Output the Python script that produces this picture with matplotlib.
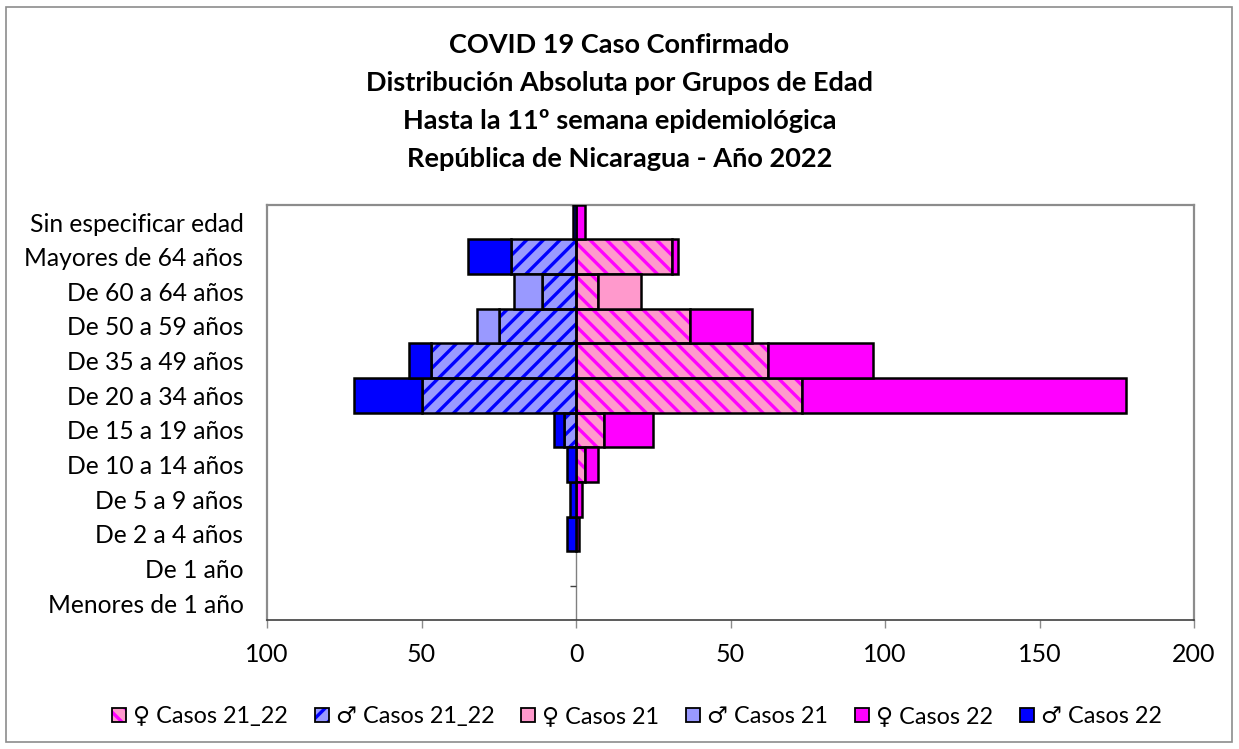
import numpy as np
import matplotlib.pyplot as plt
from matplotlib.patches import Patch, Rectangle
from matplotlib.legend_handler import HandlerTuple

# categories, bottom to top
grupos = ["Menores de 1 año", "De 1 año", "De 2 a 4 años", "De 5 a 9 años",
          "De 10 a 14 años", "De 15 a 19 años", "De 20 a 34 años", "De 35 a 49 años",
          "De 50 a 59 años", "De 60 a 64 años", "Mayores de 64 años", "Sin especificar edad"]

fem_21_22 = [0, 0, 0, 0, 3, 9, 73, 62, 37, 7, 31, 0]
fem_21 = [0, 0, 0, 0, 0, 0, 0, 0, 0, 14, 0, 0]
fem_22 = [0, 0, 1, 2, 4, 16, 105, 34, 20, 0, 2, 3]
masc_21_22 = [0, 0, 0, 0, 0, 4, 50, 47, 25, 11, 21, 0]
masc_21 = [0, 0, 0, 0, 0, 0, 0, 0, 7, 9, 0, 0]
masc_22 = [0, 0, 3, 2, 3, 3, 22, 7, 0, 0, 14, 1]

xticks = [-100, -50, 0, 50, 100, 150, 200]

titulo = ("COVID 19 Caso Confirmado\nDistribución Absoluta por Grupos de Edad\n"
          "Hasta la 11º semana epidemiológica\nRepública de Nicaragua - Año 2022")

FONT = ["Lato", "DejaVu Sans"]
plt.rcParams["font.family"] = FONT
plt.rcParams["hatch.linewidth"] = 2.4

fig = plt.figure(figsize=(12.39, 7.49), dpi=100)
fig.patches.append(Rectangle((0.005, 0.01), 0.989, 0.98, transform=fig.transFigure,
                             fill=False, edgecolor="#8c8c8c", linewidth=1.2))
ax = fig.add_axes([0.2155, 0.1716, 0.7482, 0.5551])

y = np.arange(len(grupos))

# (values, sign, base colour, stripe colour, hatch)
series = [
    (fem_21_22, 1, "#FF99CC", "#FF00FF", "\\\\"),
    (fem_21, 1, "#FF99CC", None, None),
    (fem_22, 1, "#FF00FF", None, None),
    (masc_21_22, -1, "#9999FF", "#0000FF", "//"),
    (masc_21, -1, "#9999FF", None, None),
    (masc_22, -1, "#0000FF", None, None),
]

left_f = np.zeros(len(grupos))
left_m = np.zeros(len(grupos))
for vals, sign, col, stripe, hatch in series:
    v = np.array(vals, dtype=float) * sign
    base = left_f if sign > 0 else left_m
    m = v != 0
    if hatch:
        ax.barh(y[m], v[m], left=base[m], height=1.0, color=col, edgecolor=stripe,
                hatch=hatch, linewidth=0, zorder=3)
        ax.barh(y[m], v[m], left=base[m], height=1.0, fill=False, edgecolor="black",
                linewidth=1.8, zorder=4)
    else:
        ax.barh(y[m], v[m], left=base[m], height=1.0, color=col, edgecolor="black",
                linewidth=1.8, zorder=4)
    base += v

ax.set_xlim(-100, 200)
ax.set_ylim(-0.5, len(grupos) - 0.5)
ax.set_xticks(xticks)
ax.set_xticklabels([str(abs(t)) for t in xticks], fontsize=18)
ax.set_yticks(y)
ax.set_yticklabels(grupos, fontsize=17.7)
ax.tick_params(axis="y", length=0, pad=17)
ax.tick_params(axis="x", length=6, width=1, color="#8c8c8c", pad=10)

# category axis at zero
ax.axvline(0, color="#808080", linewidth=1, zorder=2)
ax.hlines(np.arange(len(grupos) + 1) - 0.5, -1.8, 0, color="#404040", linewidth=1, zorder=2)

for s in ["top", "left", "right"]:
    ax.spines[s].set_color("#8c8c8c")
    ax.spines[s].set_linewidth(1.6)
ax.spines["bottom"].set_color("#404040")
ax.spines["bottom"].set_linewidth(1.2)

fig.text(0.5, 0.956, titulo, ha="center", va="top", fontsize=19.5, fontweight="bold",
         linespacing=1.7)

outline = dict(fill=False, edgecolor="black", linewidth=1.3)
handles = [
    (Patch(facecolor="#FF99CC", edgecolor="#FF00FF", hatch="\\\\", linewidth=0), Patch(**outline)),
    (Patch(facecolor="#9999FF", edgecolor="#0000FF", hatch="//", linewidth=0), Patch(**outline)),
    Patch(facecolor="#FF99CC", edgecolor="black", linewidth=1.3),
    Patch(facecolor="#9999FF", edgecolor="black", linewidth=1.3),
    Patch(facecolor="#FF00FF", edgecolor="black", linewidth=1.3),
    Patch(facecolor="#0000FF", edgecolor="black", linewidth=1.3),
]
labels = ["♀ Casos 21_22", "♂ Casos 21_22", "♀ Casos 21", "♂ Casos 21",
          "♀ Casos 22", "♂ Casos 22"]
fig.legend(handles, labels, loc="center", bbox_to_anchor=(0.514, 0.043), ncol=6,
           frameon=False, handlelength=0.6, handleheight=0.6, borderpad=0,
           handletextpad=0.3, columnspacing=1.15, prop={"family": FONT, "size": 16.8},
           handler_map={tuple: HandlerTuple(ndivide=1, pad=0)})

fig.savefig("out.png", dpi=100)
